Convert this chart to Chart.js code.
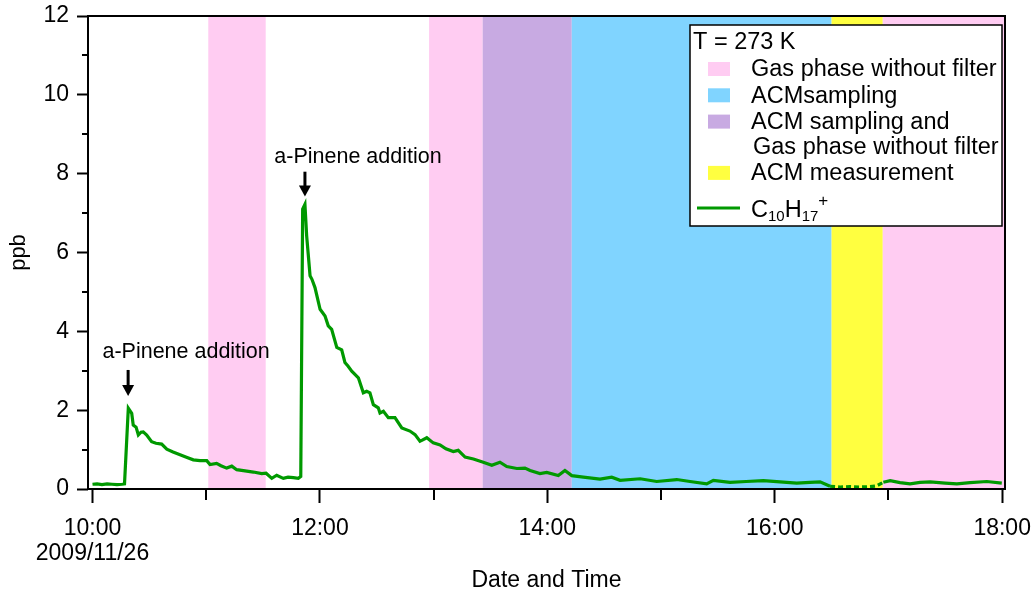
<!DOCTYPE html>
<html>
<head>
<meta charset="utf-8">
<script src="https://cdn.jsdelivr.net/npm/chart.js@4.4.1/dist/chart.umd.min.js"></script>
<style>
  html, body { margin: 0; padding: 0; background: #fff; }
  #wrap { width: 1034px; height: 591px; }
</style>
</head>
<body>
<div id="wrap"><canvas id="chart" width="1034" height="591"></canvas></div>
<script>
// C10H17+ signal, time in minutes after 2009/11/26 10:00
const minutes = [0, 2.4, 5.0, 7.7, 10.3, 12.9, 15.6, 16.9, 18.9, 20.7, 21.5, 23.0, 24.2, 25.6, 26.8, 28.6,
  31.2, 33.5, 36.5, 39.2, 42.5, 46.2, 49.9, 53.2, 56.7, 60.3, 62.0, 65.5, 67.8, 70.8, 73.5, 76.1, 80.5,
  84.9, 89.3, 91.6, 94.6, 97.2, 100.7, 103.2, 106.0, 108.6, 109.9, 110.9, 112.1, 113.0, 114.8, 115.8,
  117.4, 120.1, 122.7, 124.4, 126.2, 128.9, 131.5, 133.2, 134.8, 136.8, 140.3, 142.9, 144.7, 146.4,
  148.2, 150.8, 151.7, 153.5, 156.1, 159.6, 163.2, 167.5, 170.2, 172.8, 176.4, 179.8, 183.4, 186.5,
  190.4, 193.0, 196.6, 201.0, 206.2, 210.7, 215.0, 218.6, 223.9, 228.2, 230.9, 236.1, 239.7, 245.8,
  249.3, 252.9, 259.0, 267.8, 274.0, 278.4, 289.0, 297.7, 308.3, 315.3, 324.1, 327.6, 336.4, 344.9,
  354.0, 362.8, 371.6, 378.6, 383.9, 389.2, 394.5, 399.7, 405.0, 410.3, 413.8, 417.3, 420.9, 426.1,
  431.4, 436.7, 442.0, 449.9, 456.1, 463.1, 471.9, 479.8];
const ppb = [0.12, 0.13, 0.11, 0.13, 0.12, 0.11, 0.12, 0.13, 2.05, 1.92, 1.62, 1.57, 1.37, 1.44, 1.45, 1.37,
  1.2, 1.16, 1.14, 1.01, 0.94, 0.87, 0.8, 0.74, 0.72, 0.72, 0.62, 0.65, 0.59, 0.53, 0.58, 0.49, 0.46,
  0.43, 0.39, 0.4, 0.27, 0.35, 0.27, 0.3, 0.29, 0.27, 0.32, 7.1, 7.22, 6.43, 5.41, 5.32, 5.11, 4.56,
  4.39, 4.14, 4.05, 3.59, 3.53, 3.21, 3.12, 2.99, 2.82, 2.44, 2.48, 2.44, 2.14, 2.06, 1.93, 1.97,
  1.81, 1.81, 1.55, 1.47, 1.38, 1.21, 1.3, 1.17, 1.12, 1.02, 0.95, 0.98, 0.81, 0.76, 0.68, 0.6,
  0.68, 0.57, 0.52, 0.53, 0.47, 0.39, 0.42, 0.34, 0.47, 0.34, 0.3, 0.25, 0.3, 0.22, 0.26, 0.19,
  0.24, 0.19, 0.13, 0.22, 0.17, 0.19, 0.21, 0.18, 0.15, 0.17, 0.18, 0.07, 0.05, 0.06, 0.05, 0.06,
  0.08, 0.17, 0.21, 0.16, 0.13, 0.17, 0.18, 0.15, 0.13, 0.16, 0.19, 0.15];

// hourly ticks (minutes after 10:00), y ticks in ppb
const xTickMinutes = [0, 60, 120, 180, 240, 300, 360, 420, 480];
const yTickValues = [0, 1, 2, 3, 4, 5, 6, 7, 8, 9, 10, 11, 12];

// shaded periods, minutes after 10:00
const bandStart = [61.1, 177.6, 205.9, 252.9, 390.0, 417.0];
const bandEnd = [91.4, 205.9, 252.9, 390.0, 417.0, 490.0];
const bandKind = ['gas', 'gas', 'both', 'acm', 'meas', 'gas'];

const legendTitle = 'T = 273 K';
const legendKinds = ['gas', 'acm', 'both', 'meas'];
const legendLabels = [['Gas phase without filter'], ['ACMsampling'],
  ['ACM sampling and', 'Gas phase without filter'], ['ACM measurement']];

// a-Pinene addition markers
const annMinutes = [18.8, 112.1];
const annTip = [2.36, 7.42];
const annTail = [3.02, 8.05];
const annTextMinutes = [49.4, 140.1];
const annTextPpb = [3.48, 8.43];
const annText = ['a-Pinene addition', 'a-Pinene addition'];

const bandColors = { gas: '#ffccf2', acm: '#80d4ff', both: '#c8aae2', meas: '#ffff40' };
const lineColor = '#009900';
const FONT = '"Liberation Sans", Arial, Helvetica, sans-serif';

Chart.defaults.font.family = FONT;
Chart.defaults.color = '#000';

const bandsPlugin = {
  id: 'bands',
  beforeDatasetsDraw(chart) {
    const { ctx, chartArea: a, scales: { x } } = chart;
    ctx.save();
    bandStart.forEach((s, i) => {
      const x0 = Math.max(a.left, x.getPixelForValue(s));
      const x1 = Math.min(a.right, x.getPixelForValue(bandEnd[i]));
      ctx.fillStyle = bandColors[bandKind[i]];
      ctx.fillRect(x0, a.top, x1 - x0, a.bottom - a.top);
    });
    ctx.restore();
  }
};

const decorPlugin = {
  id: 'decor',
  afterDatasetsDraw(chart) {
    const { ctx, chartArea: a, scales: { x, y } } = chart;
    ctx.save();

    // frame
    ctx.strokeStyle = '#000';
    ctx.lineWidth = 2;
    ctx.strokeRect(a.left, a.top, a.right - a.left, a.bottom - a.top);

    // minor ticks
    ctx.beginPath();
    yTickValues.filter(v => v % 2 === 1).forEach(v => {
      const py = Math.round(y.getPixelForValue(v));
      ctx.moveTo(a.left - 6, py);
      ctx.lineTo(a.left, py);
    });
    xTickMinutes.filter(m => (m / 60) % 2 === 1).forEach(m => {
      const px = Math.round(x.getPixelForValue(m));
      ctx.moveTo(px, a.bottom);
      ctx.lineTo(px, a.bottom + 11);
    });
    ctx.stroke();

    // annotations
    annMinutes.forEach((m, i) => {
      const px = x.getPixelForValue(m);
      const tip = y.getPixelForValue(annTip[i]);
      const tail = y.getPixelForValue(annTail[i]);
      ctx.lineWidth = 3;
      ctx.beginPath();
      ctx.moveTo(px, tail);
      ctx.lineTo(px, tip - 9);
      ctx.stroke();
      ctx.fillStyle = '#000';
      ctx.beginPath();
      ctx.moveTo(px - 6, tip - 11);
      ctx.lineTo(px + 6, tip - 11);
      ctx.lineTo(px, tip);
      ctx.closePath();
      ctx.fill();
      ctx.font = '21.5px ' + FONT;
      ctx.textAlign = 'center';
      ctx.textBaseline = 'middle';
      ctx.fillText(annText[i], x.getPixelForValue(annTextMinutes[i]), y.getPixelForValue(annTextPpb[i]));
    });

    // legend box
    const bx = a.right - 315, by = a.top + 9, bw = 312, bh = 201;
    ctx.fillStyle = '#fff';
    ctx.fillRect(bx, by, bw, bh);
    ctx.lineWidth = 1.5;
    ctx.strokeStyle = '#000';
    ctx.strokeRect(bx, by, bw, bh);

    ctx.fillStyle = '#000';
    ctx.font = '23.5px ' + FONT;
    ctx.textAlign = 'left';
    ctx.textBaseline = 'middle';
    ctx.fillText(legendTitle, bx + 3, by + 18);

    let rowY = by + 44;
    legendKinds.forEach((k, i) => {
      ctx.fillStyle = bandColors[k];
      ctx.fillRect(bx + 18, rowY - 7, 22, 14);
      ctx.fillStyle = '#000';
      legendLabels[i].forEach((t, j) => {
        ctx.fillText(t, bx + 61 + (j ? 2 : 0), rowY + 1);
        if (j < legendLabels[i].length - 1) rowY += 25;
      });
      rowY += 26.3;
    });

    // line entry: C10H17+
    const ly = by + 183;
    ctx.strokeStyle = lineColor;
    ctx.lineWidth = 3;
    ctx.beginPath();
    ctx.moveTo(bx + 7, ly);
    ctx.lineTo(bx + 50, ly);
    ctx.stroke();
    ctx.textBaseline = 'alphabetic';
    ctx.fillStyle = '#000';
    let tx = bx + 61;
    const base = ly + 8.5;
    const parts = [['C', 23.5, 0], ['10', 15, 4], ['H', 23.5, 0], ['17', 15, 4], ['+', 17, -11]];
    parts.forEach(([t, size, dy]) => {
      ctx.font = size + 'px ' + FONT;
      ctx.fillText(t, tx, base + dy);
      tx += ctx.measureText(t).width;
    });

    ctx.restore();
  }
};

const yellowStart = bandStart[bandKind.indexOf('meas')];
const yellowEnd = bandEnd[bandKind.indexOf('meas')];

new Chart(document.getElementById('chart').getContext('2d'), {
  type: 'line',
  data: {
    datasets: [{
      label: 'C10H17+',
      data: minutes.map((m, i) => ({ x: m, y: ppb[i] })),
      borderColor: lineColor,
      borderWidth: 3.2,
      pointRadius: 0,
      tension: 0,
      fill: false,
      segment: {
        borderDash: c => (c.p0.parsed.x >= yellowStart - 1 && c.p1.parsed.x <= yellowEnd + 1) ? [5, 3] : undefined
      }
    }]
  },
  options: {
    responsive: false,
    animation: false,
    layout: { padding: { top: 16, right: 29, left: 0, bottom: 0 } },
    plugins: { legend: { display: false }, tooltip: { enabled: false } },
    scales: {
      x: {
        type: 'linear',
        min: -2.37,
        max: 481.5,
        afterBuildTicks: s => { s.ticks = xTickMinutes.map(v => ({ value: v })); },
        afterFit: s => { s.height = 102; s.paddingLeft = 0; s.paddingRight = 0; },
        border: { display: false },
        grid: {
          drawOnChartArea: false,
          tickLength: 14,
          tickWidth: 2,
          tickColor: c => (c.tick && (c.tick.value / 60) % 2 === 0) ? '#000' : 'rgba(0,0,0,0)'
        },
        ticks: {
          autoSkip: false,
          maxRotation: 0,
          padding: 14,
          font: { size: 23, lineHeight: 1.05 },
          callback: v => {
            const h = 10 + v / 60;
            if (h % 2 === 1) return '';
            if (v === 0) return ['10:00', '2009/11/26'];
            return h + ':00';
          }
        },
        title: { display: true, text: 'Date and Time', font: { size: 23, lineHeight: 0.9 }, padding: { top: 0, bottom: 0 } }
      },
      y: {
        min: 0,
        max: 12,
        afterBuildTicks: s => { s.ticks = yTickValues.map(v => ({ value: v })); },
        afterFit: s => { s.width = 88; s.paddingTop = 0; s.paddingBottom = 0; },
        border: { display: false },
        grid: {
          drawOnChartArea: false,
          tickLength: 11,
          tickWidth: 2,
          tickColor: c => (c.tick && c.tick.value % 2 === 0) ? '#000' : 'rgba(0,0,0,0)'
        },
        ticks: {
          padding: 8,
          font: { size: 23 },
          callback: v => (v % 2 === 0 ? String(v) : '')
        },
        title: { display: true, text: 'ppb', font: { size: 22, lineHeight: 1.2 }, padding: { top: 6, bottom: 0 } }
      }
    }
  },
  plugins: [bandsPlugin, decorPlugin]
});
</script>
</body>
</html>
